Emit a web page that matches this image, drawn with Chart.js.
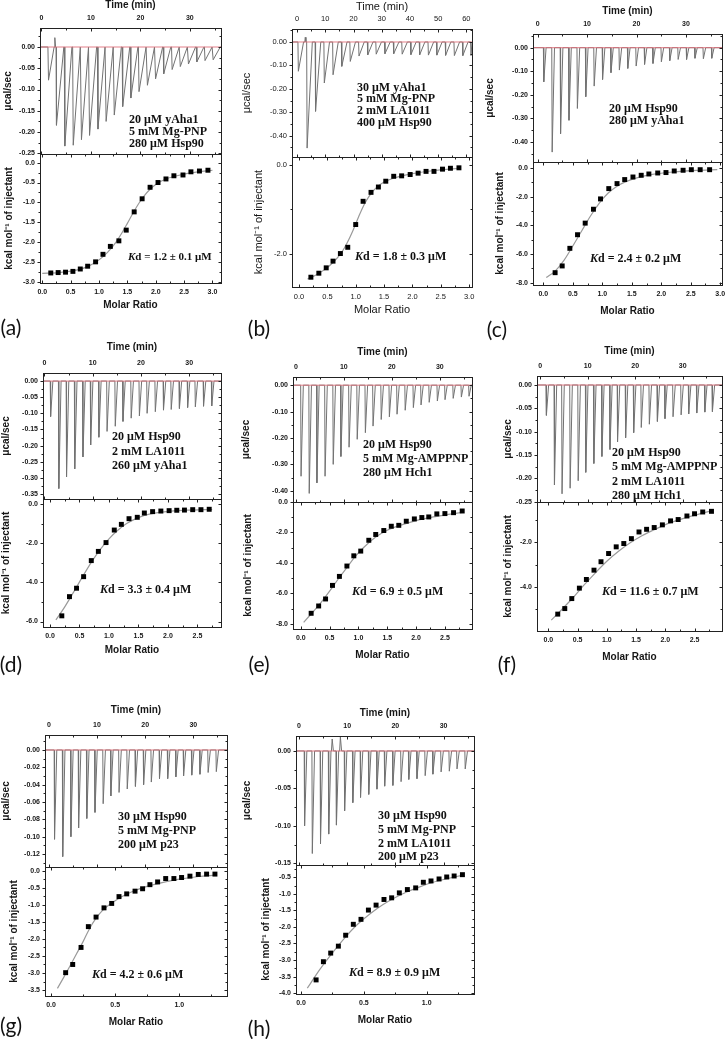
<!DOCTYPE html>
<html>
<head>
<meta charset="utf-8">
<script src="https://cdn.jsdelivr.net/npm/chart.js@4.4.0/dist/chart.umd.min.js"></script>
<style>
  body { margin: 0; background: #fff; width: 725px; height: 1039px; position: relative; overflow: hidden; }
  canvas { position: absolute; }
  .note { position: absolute; font: bold 12px "Liberation Serif", "Times New Roman", serif; color: #111; white-space: nowrap; }
  .tag { position: absolute; font: 21px Lato, "Open Sans", sans-serif; color: #111; transform: translate(-50%, -50%); }
</style>
</head>
<body>
<script>
// --- 1. Axis tick labels ---
const timeTicks = [0, 10, 20, 30];
const timeTicksLong = [0, 10, 20, 30, 40, 50, 60];
const ratioTicks30 = [0, 0.5, 1, 1.5, 2, 2.5, 3];
const ratioTicks25 = [0, 0.5, 1, 1.5, 2, 2.5];
const ratioTicks10 = [0, 0.5, 1];

const rateTicks25 = [0, -0.05, -0.1, -0.15, -0.2, -0.25];
const rateTicks35 = [0, -0.05, -0.1, -0.15, -0.2, -0.25, -0.3, -0.35];
const rateTicks40 = [0, -0.1, -0.2, -0.3, -0.4];
const rateTicks12 = [0, -0.02, -0.04, -0.06, -0.08, -0.1, -0.12];
const rateTicks15 = [0, -0.05, -0.1, -0.15];

const heatTicksA = [0, -0.5, -1, -1.5, -2, -2.5, -3];
const heatTicksB = [0, -2];
const heatTicks8 = [0, -2, -4, -6, -8];
const heatTicks6 = [0, -2, -4, -6];
const heatTicksF = [-2, -4];
const heatTicksG = [0, -0.5, -1, -1.5, -2, -2.5, -3, -3.5];
const heatTicksH = [-0.5, -1, -1.5, -2, -2.5, -3, -3.5, -4];

// --- 2. Data ---
// (a) 20 uM yAha1 + 280 uM Hsp90
const aTime = [1.3, 2.97, 4.6, 6.3, 7.96, 9.6, 11.3, 12.95, 14.6, 16.3, 17.95, 19.6, 21.3, 22.95, 24.6, 26.3, 27.95, 29.6, 31.3, 32.95, 34.6];
const aPeak = [-0.078, -0.184, -0.233, -0.231, -0.218, -0.208, -0.193, -0.175, -0.16, -0.14, -0.12, -0.105, -0.09, -0.075, -0.063, -0.053, -0.046, -0.04, -0.035, -0.032, -0.03];
const aBlipTime = [2.7];
const aBlipVal = [0.022];
const aRatio = [0.15, 0.28, 0.41, 0.54, 0.67, 0.80, 0.94, 1.07, 1.20, 1.35, 1.48, 1.62, 1.76, 1.90, 2.04, 2.18, 2.32, 2.48, 2.62, 2.77, 2.92];
const aHeat = [-2.78, -2.77, -2.76, -2.74, -2.68, -2.61, -2.50, -2.31, -2.11, -1.97, -1.70, -1.24, -0.91, -0.62, -0.50, -0.41, -0.33, -0.31, -0.23, -0.21, -0.19];
const aFitX = [0.0, 0.3, 0.6, 0.8, 1.0, 1.15, 1.3, 1.4, 1.5, 1.6, 1.7, 1.8, 1.9, 2.0, 2.2, 2.5, 2.8, 3.0];
const aFitY = [-2.79, -2.77, -2.71, -2.62, -2.45, -2.26, -2.0, -1.78, -1.53, -1.27, -1.03, -0.83, -0.67, -0.55, -0.40, -0.29, -0.22, -0.19];

// (b) 30 uM yAha1 + LA1011 + 400 uM Hsp90
const bTime = [0.3, 3.4, 6.4, 9.5, 12.6, 15.7, 18.7, 21.8, 24.9, 27.9, 31.0, 34.1, 37.1, 40.2, 43.3, 46.4, 49.4, 52.5, 55.6, 58.6, 61.5];
const bPeak = [-0.125, -0.453, -0.296, -0.175, -0.14, -0.104, -0.083, -0.06, -0.055, -0.052, -0.05, -0.05, -0.052, -0.054, -0.055, -0.056, -0.056, -0.057, -0.058, -0.058, -0.058];
const bBlipTime = [2.9];
const bBlipVal = [0.02];
const bRatio = [0.21, 0.35, 0.48, 0.60, 0.73, 0.86, 1.00, 1.13, 1.27, 1.40, 1.53, 1.67, 1.81, 1.96, 2.10, 2.24, 2.38, 2.53, 2.67, 2.82];
const bHeat = [-2.52, -2.43, -2.31, -2.16, -1.99, -1.85, -1.34, -0.82, -0.62, -0.50, -0.37, -0.26, -0.25, -0.22, -0.19, -0.15, -0.15, -0.10, -0.08, -0.07];
const bFitX = [0.15, 0.3, 0.45, 0.6, 0.75, 0.85, 0.95, 1.05, 1.15, 1.25, 1.35, 1.5, 1.7, 2.0, 2.4, 2.85];
const bFitY = [-2.56, -2.47, -2.35, -2.19, -1.97, -1.75, -1.48, -1.17, -0.89, -0.68, -0.53, -0.39, -0.29, -0.20, -0.13, -0.08];

// (c) 20 uM Hsp90 + 280 uM yAha1
const cTime = [1.15, 2.85, 4.55, 6.25, 7.95, 9.65, 11.35, 13.05, 14.75, 16.45, 18.15, 19.85, 21.55, 23.25, 24.95, 26.65, 28.35, 30.05, 31.75, 33.45, 35.15];
const cPeak = [-0.145, -0.443, -0.365, -0.308, -0.258, -0.208, -0.163, -0.135, -0.106, -0.095, -0.088, -0.078, -0.071, -0.067, -0.06, -0.055, -0.05, -0.05, -0.045, -0.047, -0.045];
const cRatio = [0.20, 0.32, 0.45, 0.58, 0.71, 0.85, 0.97, 1.11, 1.25, 1.38, 1.52, 1.66, 1.79, 1.94, 2.08, 2.22, 2.37, 2.51, 2.66, 2.82];
const cHeat = [-7.31, -6.84, -5.61, -4.66, -3.85, -2.88, -2.16, -1.44, -1.09, -0.81, -0.63, -0.51, -0.42, -0.35, -0.32, -0.21, -0.16, -0.12, -0.12, -0.12];
const cFitX = [0.05, 0.2, 0.35, 0.5, 0.65, 0.8, 0.95, 1.1, 1.25, 1.4, 1.6, 1.85, 2.2, 2.6, 2.95];
const cFitY = [-7.65, -7.2, -6.45, -5.45, -4.4, -3.35, -2.45, -1.75, -1.27, -0.95, -0.67, -0.45, -0.28, -0.17, -0.12];

// (d) 20 uM Hsp90 + LA1011 + 260 uM yAha1
const dTime = [1.2, 2.9, 4.5, 6.2, 7.9, 9.5, 11.2, 12.9, 14.6, 16.2, 17.9, 19.6, 21.2, 22.9, 24.6, 26.2, 27.9, 29.6, 31.2, 32.9, 34.6];
const dPeak = [-0.11, -0.333, -0.297, -0.272, -0.235, -0.198, -0.174, -0.156, -0.14, -0.125, -0.115, -0.108, -0.1, -0.095, -0.09, -0.088, -0.085, -0.082, -0.08, -0.078, -0.077];
const dRatio = [0.20, 0.33, 0.45, 0.57, 0.70, 0.82, 0.95, 1.09, 1.21, 1.34, 1.48, 1.60, 1.74, 1.88, 2.02, 2.15, 2.28, 2.42, 2.56, 2.70];
const dHeat = [-5.71, -4.73, -4.30, -3.71, -2.89, -2.42, -1.97, -1.33, -1.04, -0.75, -0.68, -0.46, -0.39, -0.36, -0.34, -0.32, -0.31, -0.29, -0.29, -0.27];
const dFitX = [0.1, 0.25, 0.4, 0.55, 0.7, 0.85, 1.0, 1.15, 1.3, 1.45, 1.6, 1.8, 2.1, 2.4, 2.75];
const dFitY = [-5.92, -5.25, -4.5, -3.72, -2.98, -2.33, -1.78, -1.34, -1.0, -0.76, -0.58, -0.45, -0.35, -0.31, -0.28];

// (e) 20 uM Hsp90 + AMPPNP + 280 uM Hch1
const eTime = [1.0, 2.7, 4.3, 6.0, 7.7, 9.3, 11.0, 12.7, 14.4, 16.0, 17.7, 19.4, 21.0, 22.7, 24.4, 26.0, 27.7, 29.4, 31.0, 32.7, 34.4, 36.0];
const ePeak = [-0.345, -0.41, -0.37, -0.345, -0.30, -0.27, -0.235, -0.205, -0.18, -0.155, -0.13, -0.12, -0.11, -0.095, -0.085, -0.075, -0.065, -0.06, -0.055, -0.05, -0.045, -0.042];
const eRatio = [0.18, 0.31, 0.43, 0.55, 0.67, 0.80, 0.92, 1.04, 1.18, 1.30, 1.44, 1.57, 1.70, 1.83, 1.97, 2.10, 2.22, 2.36, 2.50, 2.65, 2.80];
const eHeat = [-7.30, -6.82, -6.36, -5.47, -4.88, -4.20, -3.53, -3.22, -2.51, -2.13, -1.87, -1.59, -1.53, -1.26, -1.11, -1.02, -0.98, -0.78, -0.76, -0.70, -0.59];
const eFitX = [0.05, 0.2, 0.35, 0.5, 0.65, 0.8, 0.95, 1.1, 1.3, 1.5, 1.75, 2.0, 2.3, 2.6, 2.8];
const eFitY = [-7.9, -7.25, -6.6, -5.85, -5.05, -4.3, -3.55, -2.95, -2.3, -1.85, -1.5, -1.22, -0.98, -0.8, -0.68];

// (f) 20 uM Hsp90 + AMPPNP + LA1011 + 280 uM Hch1
const fTime = [1.2, 2.9, 4.5, 6.2, 7.9, 9.5, 11.2, 12.9, 14.6, 16.2, 17.9, 19.6, 21.2, 22.9, 24.6, 26.2, 27.9, 29.6, 31.2, 32.9, 34.6, 36.2];
const fPeak = [-0.065, -0.214, -0.233, -0.221, -0.205, -0.187, -0.168, -0.153, -0.138, -0.122, -0.113, -0.102, -0.091, -0.084, -0.078, -0.072, -0.068, -0.064, -0.062, -0.06, -0.058, -0.057];
const fRatio = [0.16, 0.28, 0.40, 0.53, 0.65, 0.78, 0.90, 1.03, 1.16, 1.29, 1.42, 1.55, 1.68, 1.81, 1.95, 2.09, 2.22, 2.37, 2.50, 2.64, 2.79];
const fHeat = [-5.23, -4.98, -4.53, -4.06, -3.67, -3.25, -2.87, -2.50, -2.20, -2.05, -1.83, -1.53, -1.41, -1.33, -1.21, -1.03, -0.97, -0.81, -0.71, -0.63, -0.60];
const fFitX = [0.05, 0.2, 0.4, 0.6, 0.8, 1.0, 1.2, 1.4, 1.6, 1.85, 2.1, 2.4, 2.75];
const fFitY = [-5.5, -5.1, -4.55, -3.95, -3.38, -2.85, -2.4, -2.02, -1.7, -1.38, -1.1, -0.85, -0.6];

// (g) 30 uM Hsp90 + 200 uM p23
const gTime = [1.1, 2.8, 4.5, 6.1, 7.8, 9.5, 11.2, 12.8, 14.5, 16.2, 17.9, 19.6, 21.2, 22.9, 24.6, 26.3, 27.9, 29.6, 31.3, 33.0, 34.7];
const gPeak = [-0.103, -0.123, -0.1, -0.09, -0.079, -0.072, -0.062, -0.053, -0.049, -0.045, -0.042, -0.04, -0.037, -0.033, -0.033, -0.031, -0.03, -0.029, -0.028, -0.026, -0.025];
const gRatio = [0.114, 0.169, 0.234, 0.291, 0.351, 0.413, 0.473, 0.530, 0.590, 0.655, 0.714, 0.771, 0.831, 0.894, 0.958, 1.018, 1.083, 1.148, 1.213, 1.278];
const gHeat = [-2.99, -2.75, -2.25, -1.64, -1.36, -1.09, -0.96, -0.76, -0.68, -0.60, -0.53, -0.41, -0.33, -0.23, -0.23, -0.20, -0.16, -0.11, -0.10, -0.10];
const gFitX = [0.05, 0.1, 0.15, 0.2, 0.25, 0.3, 0.35, 0.4, 0.5, 0.6, 0.7, 0.8, 0.9, 1.0, 1.15, 1.28];
const gFitY = [-3.45, -3.12, -2.78, -2.43, -2.08, -1.7, -1.4, -1.17, -0.88, -0.67, -0.52, -0.41, -0.32, -0.25, -0.17, -0.13];

// (h) 30 uM Hsp90 + LA1011 + 200 uM p23
const hTime = [1.1, 2.7, 4.4, 6.1, 7.7, 9.4, 11.1, 12.7, 14.4, 16.1, 17.7, 19.4, 21.1, 22.7, 24.4, 26.1, 27.7, 29.4, 31.1, 32.7, 34.4];
const hPeak = [-0.1, -0.137, -0.124, -0.111, -0.099, -0.08, -0.069, -0.062, -0.058, -0.051, -0.047, -0.046, -0.041, -0.038, -0.037, -0.033, -0.031, -0.028, -0.027, -0.024, -0.024];
const hBlipTime = [6.9, 8.6];
const hBlipVal = [0.016, 0.019];
const hRatio = [0.120, 0.178, 0.236, 0.297, 0.355, 0.416, 0.477, 0.536, 0.597, 0.660, 0.721, 0.782, 0.846, 0.912, 0.973, 1.034, 1.098, 1.159, 1.218, 1.284];
const hHeat = [-3.60, -3.05, -2.79, -2.58, -2.25, -1.92, -1.77, -1.49, -1.34, -1.17, -1.12, -0.97, -0.87, -0.82, -0.65, -0.61, -0.55, -0.49, -0.46, -0.42];
const hFitX = [0.05, 0.15, 0.25, 0.35, 0.45, 0.55, 0.65, 0.75, 0.85, 0.95, 1.05, 1.15, 1.28];
const hFitY = [-3.85, -3.28, -2.78, -2.32, -1.92, -1.6, -1.33, -1.11, -0.93, -0.78, -0.65, -0.55, -0.44];

// --- 3. Panel layout (pixel frame of every sub-plot, text placement) ---
const panels = [
  { tag: '(a)', bold: true, L: 40, R: 221, T: 28, M: 154, B: 283, timeY: 5, ratioY: 305, rateX: 8, heatX: 9,
    time: [-0.3, 36.3], tTicks: timeTicks, rate: [-0.2516, 0.0447], rTicks: rateTicks25,
    ratio: [-0.04, 3.15], xTicks: ratioTicks30, heat: [-3.033, 0.219], hTicks: heatTicksA,
    inj: aTime, peak: aPeak, blipT: aBlipTime, blipV: aBlipVal, drop: 0.12, ret: 1.55,
    px: aRatio, py: aHeat, fx: aFitX, fy: aFitY,
    notes: ['20 μM yAha1', '5 mM Mg-PNP', '280 μM Hsp90'], noteX: 129, noteY: 118.7, noteLh: 12.3,
    kd: '1.2 ± 0.1 μM', kdX: 128, kdY: 256, kdSize: 11, tagX: 11, tagY: 326 },
  { tag: '(b)', bold: false, L: 292, R: 472, T: 29, M: 157, B: 287, timeY: 6, ratioY: 311, rateX: 246, heatX: 258,
    time: [-1.8, 62], tTicks: timeTicksLong, rate: [-0.491, 0.0555], rTicks: rateTicks40,
    ratio: [-0.123, 3.05], xTicks: ratioTicks30, heat: [-2.739, 0.172], hTicks: heatTicksB,
    inj: bTime, peak: bPeak, blipT: bBlipTime, blipV: bBlipVal, drop: 0.15, ret: 2.0,
    px: bRatio, py: bHeat, fx: bFitX, fy: bFitY,
    notes: ['30 μM yAha1', '5 mM Mg-PNP', '2 mM LA1011', '400 μM Hsp90'], noteX: 357, noteY: 87.7, noteLh: 11.6,
    kd: '1.8 ± 0.3 μM', kdX: 355, kdY: 256, kdSize: 12, tagX: 259, tagY: 327 },
  { tag: '(c)', bold: true, L: 533, R: 722, T: 34, M: 162, B: 285, timeY: 11, ratioY: 311, rateX: 490, heatX: 500,
    time: [-0.95, 37.3], tTicks: timeTicks, rate: [-0.485, 0.058], rTicks: rateTicks40,
    ratio: [-0.175, 3.03], xTicks: ratioTicks30, heat: [-8.17, 0.417], hTicks: heatTicks8,
    inj: cTime, peak: cPeak, blipT: [], blipV: [], drop: 0.08, ret: 0.55,
    px: cRatio, py: cHeat, fx: cFitX, fy: cFitY,
    notes: ['20 μM Hsp90', '280 μM yAha1'], noteX: 609, noteY: 108.3, noteLh: 12.3,
    kd: '2.4 ± 0.2 μM', kdX: 590, kdY: 258, kdSize: 12, tagX: 497, tagY: 328 },
  { tag: '(d)', bold: true, L: 43, R: 221, T: 373, M: 499, B: 627, timeY: 347, ratioY: 650, rateX: 6, heatX: 6,
    time: [-0.3, 36.6], tTicks: timeTicks, rate: [-0.3654, 0.025], rTicks: rateTicks35,
    ratio: [-0.119, 2.9], xTicks: ratioTicks25, heat: [-6.28, 0.255], hTicks: heatTicks6,
    inj: dTime, peak: dPeak, blipT: [], blipV: [], drop: 0.08, ret: 0.55,
    px: dRatio, py: dHeat, fx: dFitX, fy: dFitY,
    notes: ['20 μM Hsp90', '2 mM LA1011', '260 μM yAha1'], noteX: 112, noteY: 436.7, noteLh: 14.5,
    kd: '3.3 ± 0.4 μM', kdX: 100, kdY: 589, kdSize: 12, tagX: 11, tagY: 663 },
  { tag: '(e)', bold: true, L: 293, R: 472, T: 377, M: 502, B: 629, timeY: 352, ratioY: 655, rateX: 246, heatX: 248,
    time: [-0.6, 36.7], tTicks: timeTicks, rate: [-0.4425, 0.031], rTicks: rateTicks40,
    ratio: [-0.135, 2.97], xTicks: ratioTicks25, heat: [-8.33, 0.0], hTicks: heatTicks8,
    inj: eTime, peak: ePeak, blipT: [], blipV: [], drop: 0.08, ret: 0.55,
    px: eRatio, py: eHeat, fx: eFitX, fy: eFitY,
    notes: ['20 μM Hsp90', '5 mM Mg-AMPPNP', '280 μM Hch1'], noteX: 363, noteY: 445, noteLh: 13.7,
    kd: '6.9 ±  0.5 μM', kdX: 352, kdY: 591, kdSize: 12, tagX: 259, tagY: 663 },
  { tag: '(f)', bold: true, L: 537, R: 722, T: 376, M: 502, B: 631, timeY: 351, ratioY: 657, rateX: 508, heatX: 508,
    time: [-0.7, 38.3], tTicks: timeTicks, rate: [-0.2505, 0.0193], rTicks: rateTicks25,
    ratio: [-0.195, 2.97], xTicks: ratioTicks25, heat: [-5.99, -0.18], hTicks: heatTicksF,
    inj: fTime, peak: fPeak, blipT: [], blipV: [], drop: 0.08, ret: 0.55,
    px: fRatio, py: fHeat, fx: fFitX, fy: fFitY,
    notes: ['20 μM Hsp90', '5 mM Mg-AMPPNP', '2 mM LA1011', '280 μM Hch1'], noteX: 612, noteY: 452.3, noteLh: 14.2,
    kd: '11.6 ± 0.7 μM', kdX: 602, kdY: 591, kdSize: 12, tagX: 507, tagY: 663 },
  { tag: '(g)', bold: true, L: 45, R: 227, T: 735, M: 867, B: 996, timeY: 710, ratioY: 1022, rateX: 6, heatX: 14,
    time: [-0.8, 37], tTicks: timeTicks, rate: [-0.135, 0.0173], rTicks: rateTicks12,
    ratio: [-0.047, 1.372], xTicks: ratioTicks10, heat: [-3.674, 0.108], hTicks: heatTicksG,
    inj: gTime, peak: gPeak, blipT: [], blipV: [], drop: 0.08, ret: 0.55,
    px: gRatio, py: gHeat, fx: gFitX, fy: gFitY,
    notes: ['30 μM Hsp90', '5 mM Mg-PNP', '200 μM p23'], noteX: 118, noteY: 816, noteLh: 14,
    kd: '4.2 ± 0.6 μM', kdX: 92, kdY: 974, kdSize: 12, tagX: 11, tagY: 1024 },
  { tag: '(h)', bold: true, L: 296, R: 474, T: 736, M: 865, B: 994, timeY: 713, ratioY: 1020, rateX: 247, heatX: 266,
    time: [-0.6, 36.3], tTicks: timeTicks, rate: [-0.1523, 0.02], rTicks: rateTicks15,
    ratio: [-0.04, 1.376], xTicks: ratioTicks10, heat: [-4.026, -0.128], hTicks: heatTicksH,
    inj: hTime, peak: hPeak, blipT: hBlipTime, blipV: hBlipVal, drop: 0.08, ret: 0.55,
    px: hRatio, py: hHeat, fx: hFitX, fy: hFitY,
    notes: ['30 μM Hsp90', '5 mM Mg-PNP', '2 mM LA1011', '200 μM p23'], noteX: 378, noteY: 816, noteLh: 13.7,
    kd: '8.9 ± 0.9 μM', kdX: 349, kdY: 972, kdSize: 12, tagX: 259, tagY: 1027 }
];

// --- 4. Helpers ---
const INK = '#161616';

// frame around the plot area with Origin-style major + minor ticks on all four sides
const framePlugin = {
  id: 'frame',
  afterDatasetsDraw(chart) {
    const { ctx, chartArea: a, scales: { x, y } } = chart;
    const marks = (scale) => {
      const vals = scale.ticks.map(t => t.value);
      const out = vals.map(v => [v, 3]);
      if (vals.length > 1) {
        const step = vals[1] - vals[0];
        const minors = vals.slice(0, -1).map((v, i) => (v + vals[i + 1]) / 2);
        minors.push(vals[0] - step / 2, vals[vals.length - 1] + step / 2);
        minors.forEach(v => { if (v > scale.min && v < scale.max) out.push([v, 2]); });
      }
      return out;
    };
    ctx.save();
    ctx.strokeStyle = '#222';
    ctx.lineWidth = 1;
    const l = Math.round(a.left) + 0.5, t = Math.round(a.top) + 0.5;
    const r = Math.round(a.right) + 0.5, b = Math.round(a.bottom) + 0.5;
    ctx.strokeRect(l, t, r - l, b - t);
    ctx.beginPath();
    marks(x).forEach(([v, len]) => {
      const px = Math.round(x.getPixelForValue(v)) + 0.5;
      ctx.moveTo(px, t); ctx.lineTo(px, t + len);
      ctx.moveTo(px, b); ctx.lineTo(px, b - len);
    });
    marks(y).forEach(([v, len]) => {
      const py = Math.round(y.getPixelForValue(v)) + 0.5;
      ctx.moveTo(l, py); ctx.lineTo(l - len, py);
      ctx.moveTo(r, py); ctx.lineTo(r - len, py);
    });
    ctx.stroke();
    ctx.restore();
  }
};

function makeCanvas(left, top, w, h) {
  const c = document.createElement('canvas');
  c.width = w; c.height = h;
  c.style.left = left + 'px';
  c.style.top = top + 'px';
  c.style.width = w + 'px';
  c.style.height = h + 'px';
  document.body.appendChild(c);
  return c;
}

// force the axis box to an exact size so the plot frame lands where it is in the figure
function fixSize(size, horizontal) {
  return (s) => {
    if (horizontal) s.height = size; else s.width = size;
    s.paddingTop = 0; s.paddingBottom = 0; s.paddingLeft = 0; s.paddingRight = 0;
  };
}

function useTicks(values) {
  return (s) => { s.ticks = values.map(v => ({ value: v })); };
}

function axis(p, opt) {
  const weight = p.bold ? 'bold' : 'normal';
  return {
    type: 'linear',
    position: opt.position,
    min: opt.range[0],
    max: opt.range[1],
    afterBuildTicks: useTicks(opt.ticks),
    afterFit: fixSize(opt.size, opt.horizontal),
    grid: { display: false, drawTicks: false },
    border: { display: false },
    ticks: {
      autoSkip: false, maxRotation: 0, padding: opt.pad,
      color: INK,
      font: { family: '"Liberation Sans", Arial, sans-serif', size: p.bold ? 7 : 7.5, weight },
      callback: (v) => Number(v).toFixed(opt.dec)
    },
    title: {
      display: true, text: opt.title, color: INK, padding: 0,
      font: { family: '"Liberation Sans", Arial, sans-serif', size: p.bold ? 10 : 11, weight }
    }
  };
}

// thermogram: each injection drawn as baseline -> peak -> back to baseline
function buildTrace(p) {
  const pts = [{ x: p.time[0] + 0.2, y: 0 }, { x: p.time[1], y: 0 }];
  p.inj.forEach((t, i) => {
    pts.push({ x: t, y: 0 }, { x: t + p.drop, y: p.peak[i] }, { x: t + p.ret, y: 0 });
  });
  p.blipT.forEach((t, i) => {
    pts.push({ x: t - 0.15, y: 0 }, { x: t, y: p.blipV[i] }, { x: t + 0.25, y: 0 });
  });
  pts.sort((u, v) => u.x - v.x);
  return pts;
}

const baseOptions = {
  responsive: false,
  animation: false,
  devicePixelRatio: 1,
  plugins: { legend: { display: false }, tooltip: { enabled: false } }
};

// --- 5. Draw each panel ---
function drawTop(p) {
  const left = p.rateX - 6, top = p.timeY - 6;
  const cv = makeCanvas(left, top, p.R - left + 6, p.M - top + 6);
  new Chart(cv, {
    type: 'line',
    data: {
      datasets: [
        { data: [{ x: p.time[0], y: 0 }, { x: p.time[1], y: 0 }], borderColor: '#e0707a', borderWidth: 0.9, pointRadius: 0 },
        { data: buildTrace(p), borderColor: '#727272', borderWidth: 1, pointRadius: 0, tension: 0 }
      ]
    },
    options: {
      ...baseOptions,
      layout: { padding: { left: 0, top: 0, right: 6, bottom: 6 } },
      scales: {
        x: axis(p, { position: 'top', range: p.time, ticks: p.tTicks, dec: 0, title: 'Time (min)', size: p.T - top, horizontal: true, pad: 6 }),
        y: axis(p, { position: 'left', range: p.rate, ticks: p.rTicks, dec: 2, title: 'μcal/sec', size: p.L - left, horizontal: false, pad: 5 })
      }
    },
    plugins: [framePlugin]
  });
}

function drawBottom(p) {
  const left = p.heatX - 6, top = p.M - 6;
  const cv = makeCanvas(left, top, p.R - left + 6, p.ratioY + 6 - top);
  new Chart(cv, {
    type: 'scatter',
    data: {
      datasets: [
        { data: p.px.map((x, i) => ({ x, y: p.py[i] })), pointStyle: 'rect', pointRadius: 3.5,
          backgroundColor: '#000', borderColor: '#000', borderWidth: 0, showLine: false },
        { data: p.fx.map((x, i) => ({ x, y: p.fy[i] })), showLine: true, pointRadius: 0,
          borderColor: '#9a9a9a', borderWidth: 1.2, cubicInterpolationMode: 'monotone' }
      ]
    },
    options: {
      ...baseOptions,
      layout: { padding: { left: 0, top: 6, right: 6, bottom: 0 } },
      scales: {
        x: axis(p, { position: 'bottom', range: p.ratio, ticks: p.xTicks, dec: 1, title: 'Molar Ratio', size: p.ratioY + 6 - p.B, horizontal: true, pad: 5 }),
        y: axis(p, { position: 'left', range: p.heat, ticks: p.hTicks, dec: 1, title: 'kcal mol⁻¹ of injectant', size: p.L - left, horizontal: false, pad: 5 })
      }
    },
    plugins: [framePlugin]
  });
}

function drawText(p) {
  const note = document.createElement('div');
  note.className = 'note';
  note.style.left = p.noteX + 'px';
  note.style.top = (p.noteY - p.noteLh / 2) + 'px';
  note.style.lineHeight = p.noteLh + 'px';
  note.innerHTML = p.notes.join('<br>');
  document.body.appendChild(note);

  const kd = document.createElement('div');
  kd.className = 'note';
  kd.style.left = p.kdX + 'px';
  kd.style.top = (p.kdY - 7) + 'px';
  kd.style.lineHeight = '14px';
  kd.style.fontSize = p.kdSize + 'px';
  kd.innerHTML = '<i>K</i>d = ' + p.kd;
  document.body.appendChild(kd);

  const tag = document.createElement('div');
  tag.className = 'tag';
  tag.style.left = p.tagX + 'px';
  tag.style.top = p.tagY + 'px';
  tag.textContent = p.tag;
  document.body.appendChild(tag);
}

panels.forEach(p => {
  drawTop(p);
  drawBottom(p);
  drawText(p);
});
</script>
</body>
</html>
